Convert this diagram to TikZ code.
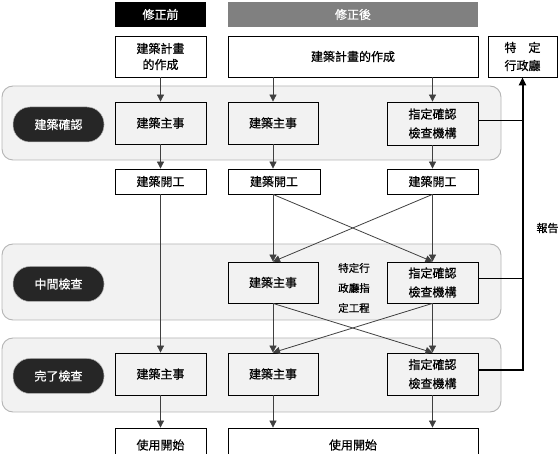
\documentclass[tikz,border=0pt]{standalone}
\usepackage{fontspec}
\setmainfont[FakeBold=0.6]{Noto Sans CJK TC}
\usetikzlibrary{arrows.meta}
\definecolor{linec}{HTML}{404040}
\definecolor{panelfill}{HTML}{F2F2F2}
\definecolor{panelline}{HTML}{B4B4B4}
\definecolor{hdrgray}{HTML}{808080}
\definecolor{pillfill}{HTML}{262626}
\tikzset{
  hdr/.style={text=white, minimum height=25pt, inner sep=0pt},
  box/.style={draw=black, line width=0.8pt, fill=white, minimum height=41pt, inner sep=0pt, align=center},
  inbox/.style={box, fill=panelfill},
  panel/.style={draw=panelline, line width=0.9pt, fill=panelfill, rounded corners=11pt, inner sep=0pt},
  pill/.style={fill=pillfill, draw=panelline, line width=0.5pt, text=white, rounded corners=17pt, minimum width=91pt, minimum height=35pt, inner sep=0pt},
  arr/.style={draw=linec, line width=0.8pt, -{Triangle[width=7pt,length=7pt]}},
  rep/.style={draw=black, line width=0.8pt},
  repthick/.style={draw=black, line width=2pt, -{Triangle[width=7pt,length=8pt]}},
}
\begin{document}
\begin{tikzpicture}[x=1pt,y=-1pt, font=\fontsize{12}{16}\selectfont]
\useasboundingbox (0,0) rectangle (560,454);
% panels
\node[panel, minimum width=499pt, minimum height=74pt] (p1) at (251.5,123) {};
\node[panel, minimum width=499pt, minimum height=76pt] (p2) at (251.5,282) {};
\node[panel, minimum width=499pt, minimum height=74pt] (p3) at (251.5,375) {};
% headers
\node[hdr, fill=black, minimum width=91pt] (hb) at (160.5,14.5) {修正前};
\node[hdr, fill=hdrgray, minimum width=250pt] (ha) at (353,14.5) {修正後};
% plan row
\node[box, minimum width=91pt] (planL) at (160.5,56.5) {建築計畫\\的作成};
\node[box, minimum width=250pt] (planR) at (353,56.5) {建築計畫的作成};
\node[box, minimum width=69pt, font=\fontsize{12}{18}\selectfont] (gov) at (522.5,56.5) {特\quad 定\\行政廳};
% pills
\node[pill] (k1) at (58.5,124.5) {建築確認};
\node[pill] (k2) at (58.5,284) {中間檢查};
\node[pill] (k3) at (58.5,376) {完了檢查};
% panel 1
\node[inbox, minimum width=91pt, minimum height=42pt] (A1) at (160.5,123) {建築主事};
\node[inbox, minimum width=90pt, minimum height=42pt] (B1) at (273,123) {建築主事};
\node[inbox, minimum width=91pt, minimum height=43pt, font=\fontsize{12}{19}\selectfont] (C1) at (432.5,123.5) {指定確認\\檢查機構};
% start row
\node[box, minimum width=91pt, minimum height=25pt] (SA) at (160.5,181.5) {建築開工};
\node[box, minimum width=92pt, minimum height=25pt] (SB) at (274,181.5) {建築開工};
\node[box, minimum width=91pt, minimum height=25pt] (SC) at (432.5,181.5) {建築開工};
% panel 2
\node[inbox, minimum width=90pt] (B2) at (273,282.5) {建築主事};
\node[inbox, minimum width=91pt, font=\fontsize{12}{19}\selectfont] (C2) at (432.5,282.5) {指定確認\\檢查機構};
\node[align=center, inner sep=0pt, font=\fontsize{10.5}{20}\selectfont] (sp) at (354,288) {特定行\\政廳指\\定工程};
% panel 3
\node[inbox, minimum width=91pt, minimum height=42pt] (A3) at (160.5,374) {建築主事};
\node[inbox, minimum width=90pt, minimum height=42pt] (B3) at (273,374) {建築主事};
\node[inbox, minimum width=91pt, minimum height=42pt, font=\fontsize{12}{19}\selectfont] (C3) at (432.5,374) {指定確認\\檢查機構};
% use row
\node[box, minimum width=91pt, minimum height=34pt] (UL) at (160.5,445) {使用開始};
\node[box, minimum width=250pt, minimum height=34pt] (UR) at (353,445) {使用開始};
% report label
\node[inner sep=0pt, font=\fontsize{11}{12}\selectfont] (rl) at (547.5,228) {報告};
% connectors left
\draw[arr] (planL) -- (A1);
\draw[arr] (A1) -- (SA);
\draw[arr] (SA) -- (A3);
\draw[arr] (A3) -- (UL);
% connectors right
\draw[arr] (planR.south -| B1.north) -- (B1.north);
\draw[arr] (planR.south -| C1.north) -- (C1.north);
\draw[arr] (B1) -- (B1.south |- SB.north);
\draw[arr] (C1) -- (SC);
\draw[arr] (SB.south -| B2.north) -- (B2.north);
\draw[arr] (SC) -- (C2);
\draw[arr] (SB.south -| B2.north) -- (C2.north);
\draw[arr] (SC.south) -- (B2.north);
\draw[arr] (B2) -- (B3);
\draw[arr] (C2) -- (C3);
\draw[arr] (B2.south) -- (C3.north);
\draw[arr] (C2.south) -- (B3.north);
\draw[arr] (B3.south) -- (B3.south |- UR.north);
\draw[arr] (C3.south) -- (C3.south |- UR.north);
% report lines
\coordinate (r1) at ([yshift=3.5pt]C1.east);
\coordinate (r2) at ([yshift=4.5pt]C2.east);
\coordinate (r3) at ([yshift=4pt]C3.east);
\draw[rep] (r1) -- (r1 -| gov.south);
\draw[rep] (r2) -- (r2 -| gov.south);
\draw[repthick] (r3) -- (r3 -| gov.south) -- (gov.south);
\end{tikzpicture}
\end{document}
